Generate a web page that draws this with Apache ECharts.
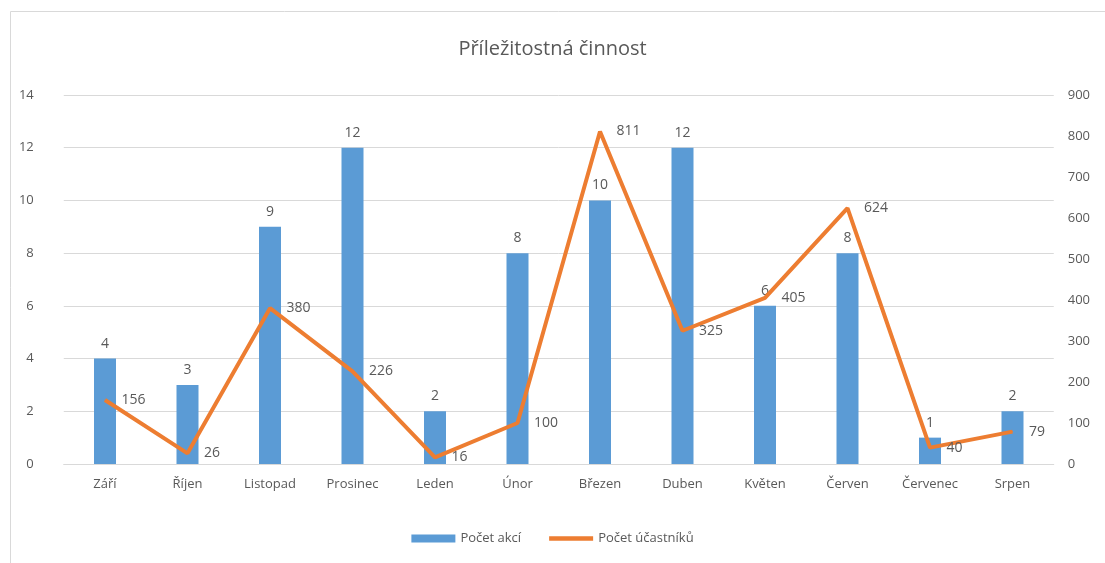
<!DOCTYPE html>
<html>
<head>
<meta charset="utf-8">
<script src="https://cdn.jsdelivr.net/npm/echarts@6/dist/echarts.min.js"></script>
<style>
  html, body { margin: 0; padding: 0; background: #fff; }
  #chart { width: 1105px; height: 563px; }
</style>
</head>
<body>
<div id="chart"></div>
<script>
const months = ["Září", "Říjen", "Listopad", "Prosinec", "Leden", "Únor", "Březen", "Duben", "Květen", "Červen", "Červenec", "Srpen"];
const pocetAkci = [4, 3, 9, 12, 2, 8, 10, 12, 6, 8, 1, 2];
const pocetUcastniku = [156, 26, 380, 226, 16, 100, 811, 325, 405, 624, 40, 79];

const font = "'Open Sans', 'Noto Sans', sans-serif";
const textColor = "#595959";

const chart = echarts.init(document.getElementById("chart"));
chart.setOption({
  animation: false,
  textStyle: { fontFamily: font },
  graphic: [
    {
      type: "rect",
      shape: { x: 10.5, y: 11.5, width: 1100, height: 560 },
      style: { fill: "none", stroke: "#d9d9d9", lineWidth: 1 },
      silent: true,
    },
  ],
  title: {
    text: "Příležitostná činnost",
    left: "center",
    top: 34,
    textStyle: { fontFamily: font, fontSize: 20, fontWeight: "normal", color: textColor },
  },
  legend: {
    bottom: 13,
    left: "center",
    itemGap: 28,
    itemWidth: 44,
    itemHeight: 8,
    textStyle: { fontFamily: font, fontSize: 13, color: textColor },
    data: [
      { name: "Počet akcí", icon: "rect" },
      { name: "Počet účastníků", icon: "path://M0,0 L10,0 L10,1 L0,1 Z" },
    ],
  },
  grid: { left: 63.75, right: 51.25, top: 95, bottom: 99 },
  xAxis: {
    type: "category",
    data: months,
    axisLine: { lineStyle: { color: "#d9d9d9" } },
    axisTick: { show: false },
    axisLabel: { color: textColor, fontSize: 13, margin: 14 },
  },
  yAxis: [
    {
      type: "value",
      min: 0,
      max: 14,
      interval: 2,
      axisLine: { show: false },
      axisTick: { show: false },
      axisLabel: { color: textColor, fontSize: 13, margin: 30 },
      splitLine: { lineStyle: { color: "#d9d9d9" } },
    },
    {
      type: "value",
      min: 0,
      max: 900,
      interval: 100,
      axisLine: { show: false },
      axisTick: { show: false },
      axisLabel: { color: textColor, fontSize: 13, margin: 14 },
      splitLine: { show: false },
    },
  ],
  series: [
    {
      name: "Počet akcí",
      type: "bar",
      data: pocetAkci,
      barWidth: 22,
      itemStyle: { color: "#5B9BD5" },
      label: { show: true, position: "top", distance: 8, color: textColor, fontSize: 14 },
    },
    {
      name: "Počet účastníků",
      type: "line",
      yAxisIndex: 1,
      data: pocetUcastniku,
      symbol: "circle",
      symbolSize: 1,
      showSymbol: true,
      lineStyle: { color: "#ED7D31", width: 4 },
      itemStyle: { color: "#ED7D31" },
      label: { show: true, position: "right", distance: 16, color: textColor, fontSize: 14 },
      labelLayout: { hideOverlap: false },
    },
  ],
});
</script>
</body>
</html>
